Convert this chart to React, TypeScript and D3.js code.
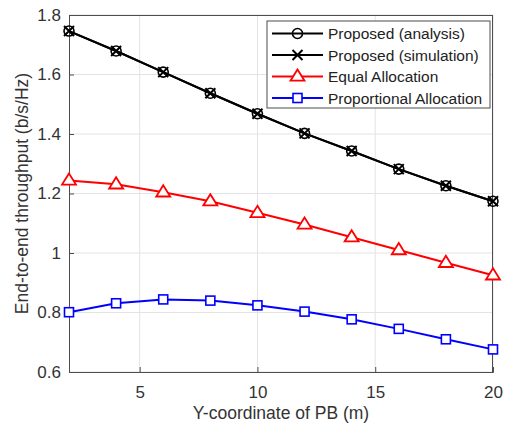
import React, { useEffect, useRef } from 'react';
import * as d3 from 'd3';

// x positions of PB (m)
const xs = [2, 4, 6, 8, 10, 12, 14, 16, 18, 20];

const proposedAnalysis = [1.746, 1.679, 1.608, 1.537, 1.468, 1.402, 1.343, 1.282, 1.226, 1.174];
const proposedSimulation = [1.746, 1.679, 1.608, 1.537, 1.468, 1.402, 1.343, 1.282, 1.226, 1.174];
const equalAllocation = [1.244, 1.231, 1.204, 1.174, 1.135, 1.096, 1.053, 1.010, 0.967, 0.925];
const proportionalAllocation = [0.801, 0.831, 0.844, 0.840, 0.824, 0.803, 0.777, 0.745, 0.710, 0.676];

const xTicks = [5, 10, 15, 20];
const yTicks = [0.6, 0.8, 1, 1.2, 1.4, 1.6, 1.8];

const seriesNames = ['Proposed (analysis)', 'Proposed (simulation)', 'Equal Allocation', 'Proportional Allocation'];

export default function App() {
  const ref = useRef<SVGSVGElement | null>(null);

  useEffect(() => {
    const svg = d3.select(ref.current);
    svg.selectAll('*').remove();

    const W = 507;
    const H = 429;
    const m = { left: 69, right: 14, top: 15, bottom: 57 };

    const x = d3.scaleLinear().domain([2, 20]).range([m.left, W - m.right]);
    const y = d3.scaleLinear().domain([0.6, 1.8]).range([H - m.bottom, m.top]);

    const font = 'Liberation Sans, Arial, sans-serif';
    const axisColor = '#4d4d4d';

    svg.append('rect').attr('width', W).attr('height', H).attr('fill', '#fff');

    // grid
    const grid = svg.append('g');
    grid.selectAll('line.gx')
      .data(xTicks)
      .join('line')
      .attr('x1', (d) => x(d)).attr('x2', (d) => x(d))
      .attr('y1', m.top).attr('y2', H - m.bottom)
      .attr('stroke', '#e3e3e3').attr('stroke-width', 1);
    grid.selectAll('line.gy')
      .data(yTicks)
      .join('line')
      .attr('y1', (d) => y(d)).attr('y2', (d) => y(d))
      .attr('x1', m.left).attr('x2', W - m.right)
      .attr('stroke', '#e3e3e3').attr('stroke-width', 1);

    // axes
    const xAxis = d3.axisBottom(x).tickValues(xTicks).tickSize(-5).tickPadding(14).tickFormat(d3.format('d'));
    const yAxis = d3.axisLeft(y).tickValues(yTicks).tickSize(-5).tickPadding(8).tickFormat((d) => String(d));

    const gx = svg.append('g').attr('transform', `translate(0,${H - m.bottom})`).call(xAxis);
    const gy = svg.append('g').attr('transform', `translate(${m.left},0)`).call(yAxis);
    [gx, gy].forEach((g) => {
      g.select('.domain').attr('stroke', axisColor);
      g.selectAll('.tick line').attr('stroke', axisColor);
      g.selectAll('.tick text').attr('fill', '#333').attr('font-size', 17).attr('font-family', font);
    });

    // box top/right
    svg.append('line').attr('x1', m.left).attr('x2', W - m.right).attr('y1', m.top + 0.5).attr('y2', m.top + 0.5).attr('stroke', axisColor);
    svg.append('line').attr('x1', W - m.right - 0.5).attr('x2', W - m.right - 0.5).attr('y1', m.top).attr('y2', H - m.bottom).attr('stroke', axisColor);

    // axis labels
    svg.append('text')
      .attr('x', (m.left + W - m.right) / 2).attr('y', 419)
      .attr('text-anchor', 'middle')
      .attr('font-family', font).attr('font-size', 17.5).attr('fill', '#333')
      .text('Y-coordinate of PB (m)');
    svg.append('text')
      .attr('transform', `translate(28,${(m.top + H - m.bottom) / 2}) rotate(-90)`)
      .attr('text-anchor', 'middle')
      .attr('font-family', font).attr('font-size', 17.5).attr('fill', '#333')
      .text('End-to-end throughput (b/s/Hz)');

    const line = d3.line<number>().x((_, i) => x(xs[i])).y((d) => y(d));

    type Marker = 'circle' | 'x' | 'triangle' | 'square';
    const drawMarker = (g: any, cx: number, cy: number, kind: Marker, color: string) => {
      if (kind === 'circle') {
        g.append('circle').attr('cx', cx).attr('cy', cy).attr('r', 5).attr('fill', 'none').attr('stroke', color).attr('stroke-width', 1.6);
      } else if (kind === 'x') {
        const s = 5;
        g.append('path').attr('d', `M${cx - s},${cy - s}L${cx + s},${cy + s}M${cx - s},${cy + s}L${cx + s},${cy - s}`)
          .attr('stroke', color).attr('stroke-width', 2).attr('fill', 'none');
      } else if (kind === 'triangle') {
        const s = 7;
        g.append('path').attr('d', `M${cx},${cy - s}L${cx + s},${cy + s * 0.6}L${cx - s},${cy + s * 0.6}Z`)
          .attr('fill', '#fff').attr('stroke', color).attr('stroke-width', 1.8);
      } else {
        const s = 4.5;
        g.append('rect').attr('x', cx - s).attr('y', cy - s).attr('width', 2 * s).attr('height', 2 * s)
          .attr('fill', '#fff').attr('stroke', color).attr('stroke-width', 1.6);
      }
    };

    const series: { data: number[]; color: string; marker: Marker; width: number }[] = [
      { data: equalAllocation, color: '#ff0000', marker: 'triangle', width: 2 },
      { data: proportionalAllocation, color: '#0000ff', marker: 'square', width: 2 },
      { data: proposedAnalysis, color: '#000', marker: 'circle', width: 2 },
      { data: proposedSimulation, color: '#000', marker: 'x', width: 2 },
    ];

    series.forEach((s) => {
      const g = svg.append('g');
      g.append('path').datum(s.data).attr('d', line).attr('fill', 'none').attr('stroke', s.color).attr('stroke-width', s.width);
      s.data.forEach((v, i) => drawMarker(g, x(xs[i]), y(v), s.marker, s.color));
    });

    // legend
    const lx = 267, ly = 21, lw = 223, lh = 87;
    const lg = svg.append('g');
    lg.append('rect').attr('x', lx).attr('y', ly).attr('width', lw).attr('height', lh)
      .attr('fill', '#fff').attr('stroke', axisColor).attr('stroke-width', 1);
    const legendItems: { color: string; marker: Marker }[] = [
      { color: '#000', marker: 'circle' },
      { color: '#000', marker: 'x' },
      { color: '#ff0000', marker: 'triangle' },
      { color: '#0000ff', marker: 'square' },
    ];
    legendItems.forEach((it, i) => {
      const cy = ly + 12.5 + i * 21.5;
      const g = lg.append('g');
      g.append('line').attr('x1', 272).attr('x2', 323).attr('y1', cy).attr('y2', cy).attr('stroke', it.color).attr('stroke-width', 2);
      drawMarker(g, 297.5, cy, it.marker, it.color);
      g.append('text').attr('x', 328).attr('y', cy + 5.5)
        .attr('font-family', font).attr('font-size', 15.5).attr('fill', '#222')
        .text(seriesNames[i]);
    });
  }, []);

  return <svg ref={ref} width={507} height={429} style={{ position: 'absolute', left: 0, top: 0 }} />;
}
